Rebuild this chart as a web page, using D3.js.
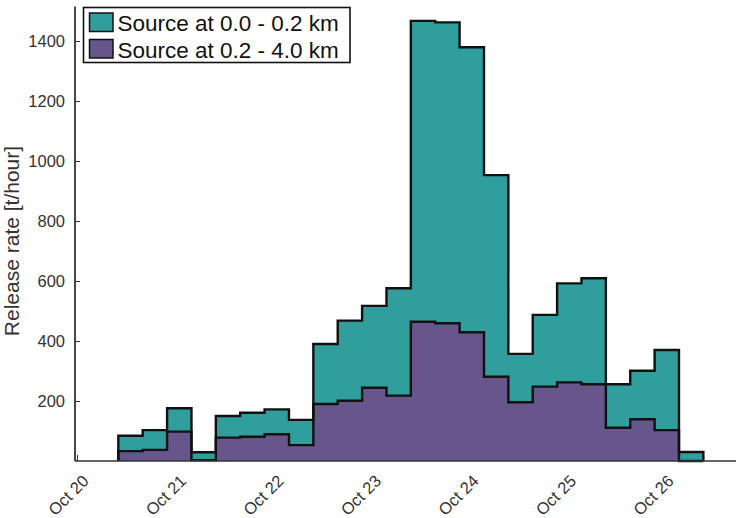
<!DOCTYPE html>
<html><head><meta charset="utf-8">
<script src="https://cdn.jsdelivr.net/npm/d3@7"></script>
<style>
body{margin:0;background:#fff}
svg{display:block}
text{font-family:"Liberation Sans",Arial,Helvetica,sans-serif}
</style>
</head><body>
<svg id="c" width="736" height="518"></svg>
<script>
// ---- data ----
const binStarts = [
  "2010-10-20T10:10","2010-10-20T16:10","2010-10-20T22:10","2010-10-21T04:10",
  "2010-10-21T10:10","2010-10-21T16:10","2010-10-21T22:10","2010-10-22T04:10",
  "2010-10-22T10:10","2010-10-22T16:10","2010-10-22T22:10","2010-10-23T04:10",
  "2010-10-23T10:10","2010-10-23T16:10","2010-10-23T22:10","2010-10-24T04:10",
  "2010-10-24T10:10","2010-10-24T16:10","2010-10-24T22:10","2010-10-25T04:10",
  "2010-10-25T10:10","2010-10-25T16:10","2010-10-25T22:10","2010-10-26T04:10"
];
const binEnd = "2010-10-26T10:10";
// Source at 0.2 - 4.0 km (bottom, purple)
const upperSource = [33,37,98,3,78,81,89,53,190,201,244,218,464,459,429,281,196,248,262,256,111,139,103,0];
// Source at 0.0 - 0.2 km (top, teal)
const nearSource  = [51,66,78,26,72,80,83,84,200,267,273,358,1003,1003,950,672,161,239,330,353,145,162,267,30];
const seriesNames = ["Source at 0.0 - 0.2 km","Source at 0.2 - 4.0 km"];
const seriesColors = ["#2f9e9c","#66568c"];
const yTicks = [200,400,600,800,1000,1200,1400];
const xTickDates = ["2010-10-20","2010-10-21","2010-10-22","2010-10-23","2010-10-24","2010-10-25","2010-10-26"];
const xTickLabels = ["Oct 20","Oct 21","Oct 22","Oct 23","Oct 24","Oct 25","Oct 26"];
const yTitle = "Release rate [t/hour]";

// ---- setup ----
const parseT = d3.timeParse("%Y-%m-%dT%H:%M");
const parseD = d3.timeParse("%Y-%m-%d");
const svg = d3.select("#c");

const x = d3.scaleTime()
  .domain([parseT("2010-10-19T23:30"), parseT("2010-10-26T18:12")])
  .range([75, 736]);
const y = d3.scaleLinear().domain([0, 1515]).range([461, 6.5]);

const rows = binStarts.map((s,i)=>({t: parseT(s), upper: upperSource[i], near: nearSource[i]}));
const tEnd = parseT(binEnd);
const stack = d3.stack().keys(["upper","near"]);
const layers = stack(rows);

// ---- axes (drawn beneath bars) ----
const yAxis = d3.axisLeft(y).tickValues(yTicks).tickFormat(d3.format("d"))
  .tickSizeInner(-5).tickSizeOuter(0).tickPadding(10);
const gy = svg.append("g").attr("transform","translate(75,0)").call(yAxis);
gy.select(".domain").remove();
gy.selectAll(".tick line").attr("stroke","#333").attr("stroke-width",1);
gy.selectAll(".tick text").attr("fill","#333").style("font-size","16.5px");

const xAxis = d3.axisBottom(x).tickValues(xTickDates.map(parseD))
  .tickFormat((d,i)=>xTickLabels[i]).tickSizeInner(-6).tickSizeOuter(0);
const gx = svg.append("g").attr("transform","translate(0,461)").call(xAxis);
gx.select(".domain").remove();
gx.selectAll(".tick line").attr("stroke","#333").attr("stroke-width",1);
gx.selectAll(".tick text")
  .attr("x",0).attr("y",0).attr("dy","0.35em")
  .attr("transform","translate(8,17) rotate(-45)")
  .style("text-anchor","end").style("font-size","16.5px").attr("fill","#333");

// ---- stacked stair areas ----
const areaGen = d3.area().curve(d3.curveStepAfter)
  .x(d=>x(d.t)).y0(d=>y(d.v0)).y1(d=>y(d.v1));
const colorsBottomFirst = [seriesColors[1], seriesColors[0]];
layers.forEach((layer, li)=>{
  const pts = layer.map((d,i)=>({t: rows[i].t, v0: d[0], v1: d[1]}));
  const last = pts[pts.length-1];
  pts.push({t: tEnd, v0: last.v0, v1: last.v1});
  svg.append("path").attr("d", areaGen(pts)).attr("fill", colorsBottomFirst[li]).attr("stroke","none");
});

// outlines
const lineGen = d3.line().curve(d3.curveStepAfter).x(d=>x(d.t)).y(d=>y(d.v));
layers.forEach(layer=>{
  const pts = [{t: rows[0].t, v: 0}];
  layer.forEach((d,i)=>pts.push({t: rows[i].t, v: d[1]}));
  pts.push({t: tEnd, v: layer[layer.length-1][1]});
  pts.push({t: tEnd, v: 0});
  svg.append("path").attr("d", lineGen(pts)).attr("fill","none")
    .attr("stroke","#111").attr("stroke-width",2.4).attr("stroke-linejoin","miter");
});

// axis lines on top
svg.append("line").attr("x1",x.range()[0]).attr("x2",x.range()[1])
  .attr("y1",y(0)).attr("y2",y(0)).attr("stroke","#333").attr("stroke-width",1.5);
svg.append("line").attr("x1",75).attr("x2",75)
  .attr("y1",y.range()[1]).attr("y2",y(0)).attr("stroke","#333").attr("stroke-width",1.8);

// y title
svg.append("text").attr("transform","translate(19,241) rotate(-90)")
  .attr("text-anchor","middle").attr("fill","#333").style("font-size","21px").text(yTitle);

// ---- legend ----
const lg = svg.append("g");
lg.append("rect").attr("x",83.5).attr("y",7.5).attr("width",266.5).attr("height",55)
  .attr("fill","#fff").attr("stroke","#111").attr("stroke-width",1.6);
seriesNames.forEach((name,i)=>{
  lg.append("rect").attr("x",89.5).attr("y",13 + i*26.5).attr("width",23.5).attr("height",18.5)
    .attr("fill",seriesColors[i]).attr("stroke","#111").attr("stroke-width",1.5);
  lg.append("text").attr("x",117.5).attr("y",30.5 + i*27).attr("fill","#111")
    .style("font-size","22.5px").text(name);
});
</script>
</body></html>
